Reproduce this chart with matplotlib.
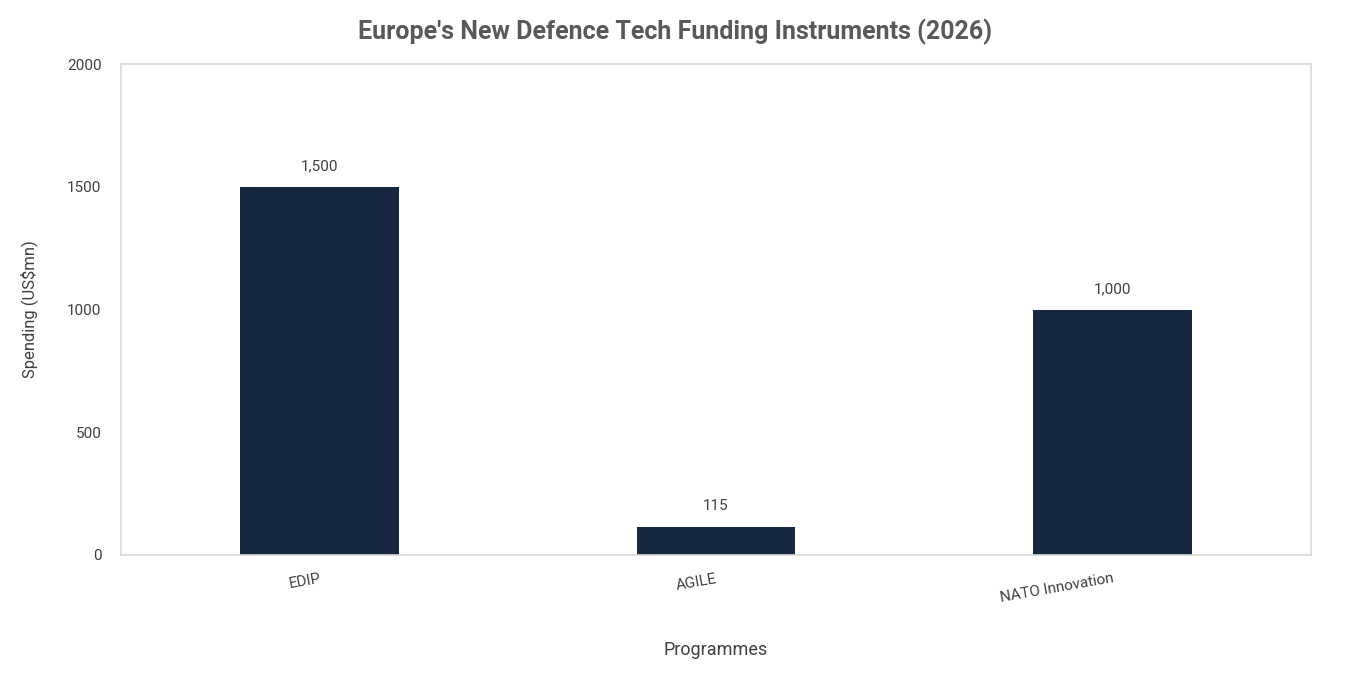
import matplotlib
matplotlib.use('Agg')
import matplotlib.pyplot as plt

# data
programmes = ['EDIP', 'AGILE', 'NATO Innovation']
spending = [1500, 115, 1000]
value_labels = ['1,500', '115', '1,000']

plt.rcParams['font.family'] = ['Roboto', 'DejaVu Sans']

fig = plt.figure(figsize=(13.5, 6.76), dpi=100)
ax = fig.add_axes([0.0896, 0.179, 0.8815, 0.726])

x = range(len(programmes))
bars = ax.bar(x, spending, width=0.4, color='#172740')

for b, lab in zip(bars, value_labels):
    ax.text(b.get_x() + b.get_width() / 2, b.get_height() + 55, lab,
            ha='center', va='bottom', fontsize=11, color='#404040')

ax.set_xlim(-0.5, 2.5)
ax.set_ylim(0, 2000)
ax.set_yticks([0, 500, 1000, 1500, 2000])
ax.set_xticks(list(x))
ax.set_xticklabels(programmes, rotation=10, ha='right', rotation_mode='anchor',
                   fontsize=11, color='#404040')
ax.tick_params(axis='y', labelsize=11, labelcolor='#404040', length=0, pad=14)
ax.tick_params(axis='x', length=0, pad=12)

for s in ax.spines.values():
    s.set_color('#D9D9D9')
    s.set_linewidth(1.2)

ax.set_xlabel('Programmes', fontsize=13, color='#404040')
ax.xaxis.set_label_coords(0.5, -0.175)
ax.set_ylabel('Spending (US$mn)', fontsize=12, color='#404040')
ax.yaxis.set_label_coords(-0.07, 0.5)

fig.suptitle("Europe's New Defence Tech Funding Instruments (2026)",
             fontsize=18, fontweight='bold', color='#595959', y=0.972)

fig.savefig('out.png', dpi=100)
